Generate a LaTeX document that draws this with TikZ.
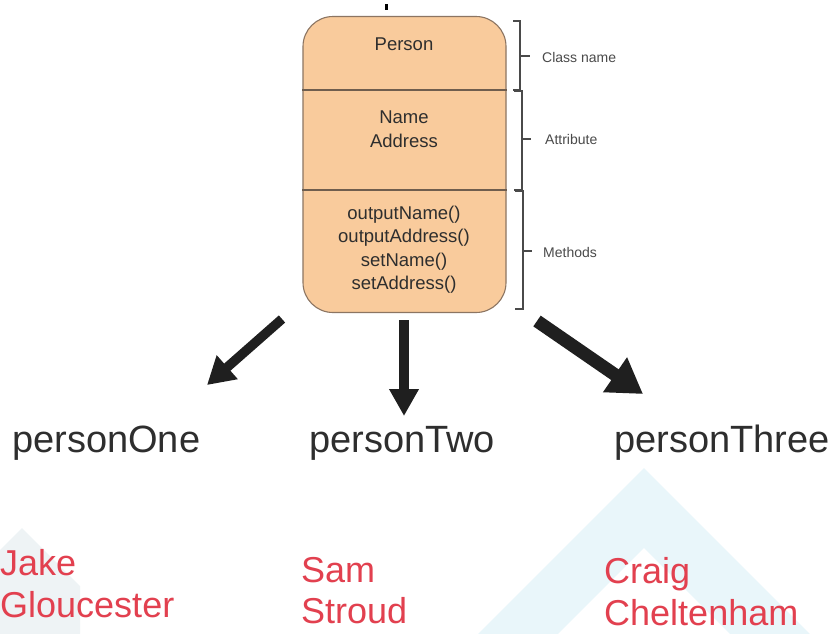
\documentclass[tikz,border=0pt]{standalone}
\usepackage{fontspec}
\setmainfont{Liberation Sans}
\usetikzlibrary{arrows.meta}
\definecolor{boxfill}{HTML}{F9CB9C}
\definecolor{boxline}{HTML}{8C7562}
\definecolor{inktext}{HTML}{2E2E2E}
\definecolor{labelgray}{HTML}{4A4A4A}
\definecolor{namered}{HTML}{E2404F}
\definecolor{wm}{HTML}{E9F6FA}
\definecolor{wmleft}{HTML}{EEF3F5}
\tikzset{
  clsbox/.style={draw=boxline, line width=1.1pt, fill=boxfill, rounded corners=30pt,
    minimum width=203pt, minimum height=296pt, inner sep=0pt},
  divider/.style={draw=boxline!80!black, line width=1.1pt},
  clstext/.style={text=inktext, font=\fontsize{18.5}{23.5}\selectfont, align=center, inner sep=0pt},
  bracketline/.style={draw=labelgray, line width=1.3pt},
  sidelabel/.style={text=labelgray, font=\fontsize{14}{16}\selectfont, anchor=west, inner sep=0pt},
  objname/.style={text=inktext, font=\fontsize{38}{44}\selectfont, anchor=base west, inner sep=0pt},
  redname/.style={text=namered, font=\fontsize{36}{42}\selectfont, anchor=base west, inner sep=0pt},
  fatarrow/.style={draw=black!88, line width=#1},
}
\begin{document}
\begin{tikzpicture}[x=1pt,y=-1pt]
\useasboundingbox (0,0) rectangle (834,633);
\fill[white] (0,0) rectangle (834,633);
% watermark
\fill[wm] (644,468) -- (820,644) -- (468,644) -- cycle;
\fill[white] (644,548) -- (740,644) -- (548,644) -- cycle;
\fill[wmleft] (22,528) -- (80,586) -- (80,640) -- (0,640) -- (0,550) -- cycle;
% stray mark at top
\fill[black] (384.5,4) rectangle (387.5,10);
% class box
\node[clsbox] (cls) at (404.5,164.5) {};
\coordinate (d1) at (0,90);
\coordinate (d2) at (0,190);
\draw[divider] (cls.west |- d1) -- (cls.east |- d1);
\draw[divider] (cls.west |- d2) -- (cls.east |- d2);
\node[clstext] (cname) at (404,44) {Person};
\node[clstext] (attrs) at (404,129) {Name\\Address};
\node[clstext] (meths) at (404,249.5) {outputName()\\outputAddress()\\setName()\\setAddress()};
% brackets
\draw[bracketline] (513,21) -- (520,21) -- (520,90) -- (513,90);
\draw[bracketline] (520,56) -- (530,56);
\draw[bracketline] (514,91) -- (522,91) -- (522,190) -- (514,190);
\draw[bracketline] (522,139) -- (531,139);
\draw[bracketline] (515,191) -- (523,191) -- (523,309) -- (515,309);
\draw[bracketline] (523,251) -- (532,251);
\node[sidelabel] (lcn) at (542,57) {Class name};
\node[sidelabel] (lat) at (545,139) {Attribute};
\node[sidelabel] (lme) at (543,252) {Methods};
% object names
\node[objname] (p1) at (12,452) {personOne};
\node[objname] (p2) at (309,452) {personTwo};
\node[objname] (p3) at (614,452) {personThree};
% arrows
\coordinate (a1s) at (282,319);
\coordinate (a1e) at (207,385);
\coordinate (a2s) at (404,320);
\coordinate (a2e) at (404,416);
\coordinate (a3s) at (537,321);
\coordinate (a3e) at (643,394);
\draw[fatarrow=9.5pt, -{Triangle[length=27pt,width=30pt]}] (a1s) -- (a1e);
\draw[fatarrow=10pt, -{Triangle[length=27pt,width=28pt]}] (a2s) -- (a2e);
\draw[fatarrow=13pt, -{Triangle[length=34pt,width=40pt]}] (a3s) -- (a3e);
% red names
\node[redname] (n1a) at (0,575) {Jake};
\node[redname] (n1b) at (0,617) {Gloucester};
\node[redname] (n2a) at (301,582) {Sam};
\node[redname] (n2b) at (301,623) {Stroud};
\node[redname] (n3a) at (604,583) {Craig};
\node[redname] (n3b) at (604,625) {Cheltenham};
\end{tikzpicture}
\end{document}
